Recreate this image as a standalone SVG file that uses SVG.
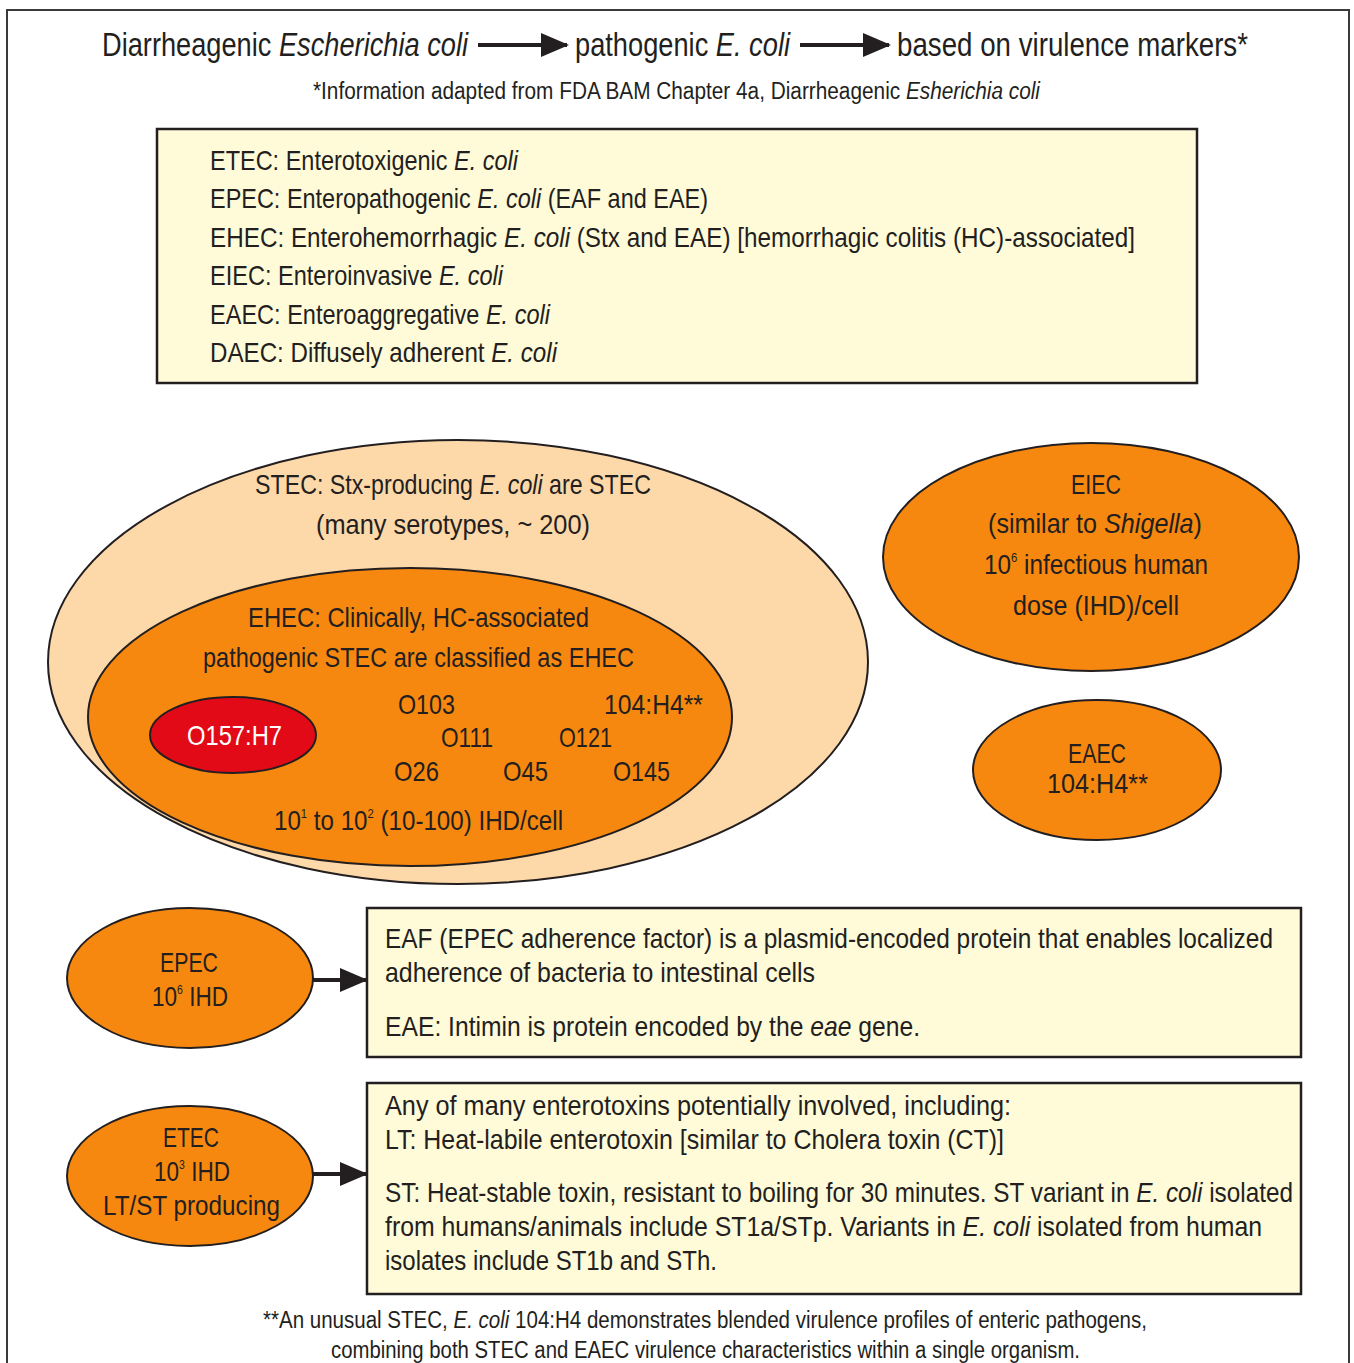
<svg xmlns="http://www.w3.org/2000/svg" width="1354" height="1363" viewBox="0 0 1354 1363">
<style>
text{font-family:"Liberation Sans Narrow","Liberation Sans",Arial,sans-serif;fill:#231f20}
.i{font-style:italic}
.t{font-size:33px}
.s{font-size:23px}
.b{font-size:28px}
.e{font-size:28px}
.sup{font-size:13px}
.box{fill:#fffbd9;stroke:#231f20;stroke-width:2.5}
.org{fill:#f7880f;stroke:#231f20;stroke-width:2}
.conn{stroke:#231f20;stroke-width:4;fill:none}
</style>
<defs>
<marker id="ah" markerWidth="7" markerHeight="6" refX="6.5" refY="3" orient="auto" markerUnits="strokeWidth">
<path d="M0,0 L7,3 L0,6 Z" fill="#231f20"/>
</marker>
</defs>
<rect width="1354" height="1363" fill="#ffffff"/>
<rect x="7" y="10" width="1342" height="1370" fill="none" stroke="#3a3a3a" stroke-width="2"/>

<g id="title">
<text class="t" x="102" y="56" textLength="366" lengthAdjust="spacingAndGlyphs">Diarrheagenic <tspan class="i">Escherichia coli</tspan></text>
<text class="t" x="575" y="56" textLength="215" lengthAdjust="spacingAndGlyphs">pathogenic <tspan class="i">E. coli</tspan></text>
<text class="t" x="897" y="56" textLength="351" lengthAdjust="spacingAndGlyphs">based on virulence markers*</text>
<text class="s" x="313" y="99" textLength="727" lengthAdjust="spacingAndGlyphs">*Information adapted from FDA BAM Chapter 4a, Diarrheagenic <tspan class="i">Esherichia coli</tspan></text>
</g>

<g id="legend">
<rect class="box" x="157" y="129" width="1040" height="254"/>
<text class="b" x="210" y="170" textLength="308" lengthAdjust="spacingAndGlyphs">ETEC: Enterotoxigenic <tspan class="i">E. coli</tspan></text>
<text class="b" x="210" y="208" textLength="498" lengthAdjust="spacingAndGlyphs">EPEC: Enteropathogenic <tspan class="i">E. coli</tspan> (EAF and EAE)</text>
<text class="b" x="210" y="247" textLength="925" lengthAdjust="spacingAndGlyphs">EHEC: Enterohemorrhagic <tspan class="i">E. coli</tspan> (Stx and EAE) [hemorrhagic colitis (HC)-associated]</text>
<text class="b" x="210" y="285" textLength="293" lengthAdjust="spacingAndGlyphs">EIEC: Enteroinvasive <tspan class="i">E. coli</tspan></text>
<text class="b" x="210" y="324" textLength="340" lengthAdjust="spacingAndGlyphs">EAEC: Enteroaggregative <tspan class="i">E. coli</tspan></text>
<text class="b" x="210" y="362" textLength="347" lengthAdjust="spacingAndGlyphs">DAEC: Diffusely adherent <tspan class="i">E. coli</tspan></text>
</g>

<g id="stec">
<ellipse cx="458" cy="662" rx="410" ry="222" fill="#fdd9aa" stroke="#231f20" stroke-width="2"/>
<text class="e" x="255" y="494" textLength="396" lengthAdjust="spacingAndGlyphs">STEC: Stx-producing <tspan class="i">E. coli</tspan> are STEC</text>
<text class="e" x="316" y="534" textLength="274" lengthAdjust="spacingAndGlyphs">(many serotypes, ~ 200)</text>
</g>

<g id="ehec">
<ellipse class="org" cx="410" cy="717" rx="322" ry="149"/>
<text class="e" x="248" y="627" textLength="341" lengthAdjust="spacingAndGlyphs">EHEC: Clinically, HC-associated</text>
<text class="e" x="203" y="667" textLength="431" lengthAdjust="spacingAndGlyphs">pathogenic STEC are classified as EHEC</text>
<text class="e" x="398" y="714" textLength="57" lengthAdjust="spacingAndGlyphs">O103</text>
<text class="e" x="604" y="714" textLength="99" lengthAdjust="spacingAndGlyphs">104:H4**</text>
<text class="e" x="441" y="747" textLength="52" lengthAdjust="spacingAndGlyphs">O111</text>
<text class="e" x="559" y="747" textLength="53" lengthAdjust="spacingAndGlyphs">O121</text>
<text class="e" x="394" y="781" textLength="45" lengthAdjust="spacingAndGlyphs">O26</text>
<text class="e" x="503" y="781" textLength="45" lengthAdjust="spacingAndGlyphs">O45</text>
<text class="e" x="613" y="781" textLength="57" lengthAdjust="spacingAndGlyphs">O145</text>
<text class="e" x="274" y="830" textLength="289" lengthAdjust="spacingAndGlyphs">10<tspan class="sup" dy="-12">1</tspan><tspan dy="12"> to 10</tspan><tspan class="sup" dy="-12">2</tspan><tspan dy="12"> (10-100) IHD/cell</tspan></text>
</g>

<g id="o157">
<ellipse cx="233" cy="735" rx="83" ry="38" fill="#e20a16" stroke="#231f20" stroke-width="2"/>
<text class="e" x="187" y="745" textLength="95" lengthAdjust="spacingAndGlyphs" style="fill:#ffffff">O157:H7</text>
</g>

<g id="eiec">
<ellipse class="org" cx="1091" cy="557" rx="208" ry="114"/>
<text class="e" x="1071" y="494" textLength="50" lengthAdjust="spacingAndGlyphs">EIEC</text>
<text class="e" x="988" y="533" textLength="214" lengthAdjust="spacingAndGlyphs">(similar to <tspan class="i">Shigella</tspan>)</text>
<text class="e" x="984" y="574" textLength="224" lengthAdjust="spacingAndGlyphs">10<tspan class="sup" dy="-12">6</tspan><tspan dy="12"> infectious human</tspan></text>
<text class="e" x="1013" y="615" textLength="166" lengthAdjust="spacingAndGlyphs">dose (IHD)/cell</text>
</g>

<g id="eaec">
<ellipse class="org" cx="1097" cy="770" rx="124" ry="70"/>
<text class="e" x="1068" y="763" textLength="58" lengthAdjust="spacingAndGlyphs">EAEC</text>
<text class="e" x="1047" y="793" textLength="101" lengthAdjust="spacingAndGlyphs">104:H4**</text>
</g>

<g id="epec">
<ellipse class="org" cx="190" cy="978" rx="123" ry="70"/>
<text class="e" x="160" y="972" textLength="58" lengthAdjust="spacingAndGlyphs">EPEC</text>
<text class="e" x="152" y="1006" textLength="76" lengthAdjust="spacingAndGlyphs">10<tspan class="sup" dy="-12">6</tspan><tspan dy="12"> IHD</tspan></text>
</g>

<g id="etec">
<ellipse class="org" cx="190" cy="1176" rx="123" ry="70"/>
<text class="e" x="163" y="1147" textLength="56" lengthAdjust="spacingAndGlyphs">ETEC</text>
<text class="e" x="154" y="1181" textLength="76" lengthAdjust="spacingAndGlyphs">10<tspan class="sup" dy="-12">3</tspan><tspan dy="12"> IHD</tspan></text>
<text class="e" x="103" y="1215" textLength="177" lengthAdjust="spacingAndGlyphs">LT/ST producing</text>
</g>

<g id="eaf-box">
<rect class="box" x="367" y="908" width="934" height="149"/>
<text class="e" x="385" y="948" textLength="888" lengthAdjust="spacingAndGlyphs">EAF (EPEC adherence factor) is a plasmid-encoded protein that enables localized</text>
<text class="e" x="385" y="982" textLength="430" lengthAdjust="spacingAndGlyphs">adherence of bacteria to intestinal cells</text>
<text class="e" x="385" y="1036" textLength="535" lengthAdjust="spacingAndGlyphs">EAE: Intimin is protein encoded by the <tspan class="i">eae</tspan> gene.</text>
</g>

<g id="toxin-box">
<rect class="box" x="367" y="1083" width="934" height="211"/>
<text class="e" x="385" y="1115" textLength="626" lengthAdjust="spacingAndGlyphs">Any of many enterotoxins potentially involved, including:</text>
<text class="e" x="385" y="1149" textLength="619" lengthAdjust="spacingAndGlyphs">LT: Heat-labile enterotoxin [similar to Cholera toxin (CT)]</text>
<text class="e" x="385" y="1202" textLength="908" lengthAdjust="spacingAndGlyphs">ST: Heat-stable toxin, resistant to boiling for 30 minutes. ST variant in <tspan class="i">E. coli</tspan> isolated</text>
<text class="e" x="385" y="1236" textLength="877" lengthAdjust="spacingAndGlyphs">from humans/animals include ST1a/STp. Variants in <tspan class="i">E. coli</tspan> isolated from human</text>
<text class="e" x="385" y="1270" textLength="332" lengthAdjust="spacingAndGlyphs">isolates include ST1b and STh.</text>
</g>

<g id="footnote">
<text class="s" x="263" y="1328" textLength="884" lengthAdjust="spacingAndGlyphs">**An unusual STEC, <tspan class="i">E. coli</tspan> 104:H4 demonstrates blended virulence profiles of enteric pathogens,</text>
<text class="s" x="331" y="1358" textLength="749" lengthAdjust="spacingAndGlyphs">combining both STEC and EAEC virulence characteristics within a single organism.</text>
</g>

<g id="connectors">
<line class="conn" x1="478" y1="45" x2="567" y2="45" marker-end="url(#ah)"/>
<line class="conn" x1="800" y1="45" x2="889" y2="45" marker-end="url(#ah)"/>
<line class="conn" x1="313" y1="980" x2="366" y2="980" marker-end="url(#ah)"/>
<line class="conn" x1="313" y1="1174" x2="366" y2="1174" marker-end="url(#ah)"/>
</g>
</svg>
